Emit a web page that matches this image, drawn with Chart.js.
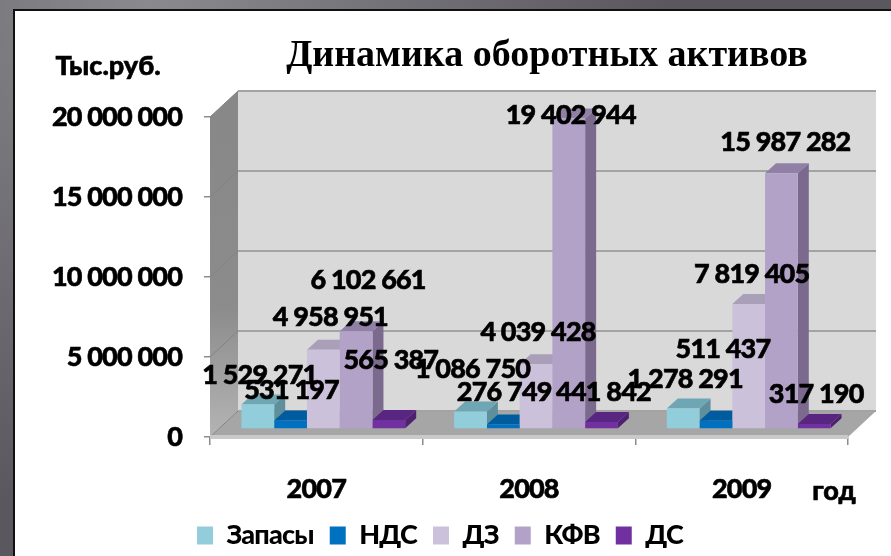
<!DOCTYPE html>
<html>
<head>
<meta charset="utf-8">
<script src="https://cdn.jsdelivr.net/npm/chart.js@4"></script>
<style>
    html, body { margin: 0; padding: 0; width: 891px; height: 556px; overflow: hidden; }
    body { position: relative; background: radial-gradient(ellipse 520px 520px at 150px 0, #8a898e, #5a585e); }
    #sheet { position: absolute; left: 13px; top: 9px; right: 0; bottom: 0; background: #fff; border-left: 2px solid #111; border-top: 2px solid #111; }
    canvas { position: absolute; left: 0; top: 0; filter: blur(0.5px); }
</style>
</head>
<body>
<div id="sheet"></div>
<canvas id="assetsChart" width="891" height="556"></canvas>
<script>
const years = ['2007', '2008', '2009'];
const zapasy = [1529271, 1086750, 1278291];
const nds = [531197, 276749, 511437];
const dz = [4958951, 4039428, 7819405];
const kfv = [6102661, 19402944, 15987282];
const ds = [565387, 441842, 317190];
const yTicks = [0, 5000000, 10000000, 15000000, 20000000];

const FONT = 'Lato, sans-serif';
// depth of the box and of the bars, in px
const BOX_DX = 28, BOX_DY = 26;
const BAR_SHIFT_X = 7, BAR_SHIFT_Y = -8;
const BAR_DX = 11, BAR_DY = 10;

const seriesStyle = [
    { front: '#92cddc', side: '#5d8f9c', top: '#6fa6b4' },
    { front: '#0070c0', side: '#00558f', top: '#005c9e' },
    { front: '#ccc1da', side: '#9a8fa8', top: '#a99fb8' },
    { front: '#b3a2c7', side: '#7b6a8e', top: '#9080a6' },
    { front: '#7030a0', side: '#4e2070', top: '#582680' }
];

// label position relative to the bar top, one row per series [dx, dy]
const labelNudge = [
    [[2, -29], [2, -42], [2, -29]],
    [[1, -30], [1, -32], [7, -72]],
    [[7, -32], [2, -32], [3, -30]],
    [[12, -51], [2, -3], [4, -31]],
    [[2, -60], [2, -30], [2, -30]]
];

function spaced(v) {
    return String(v).replace(/\B(?=(\d{3})+(?!\d))/g, ' ');
}

function poly(ctx, pts, fill) {
    ctx.beginPath();
    ctx.moveTo(pts[0][0], pts[0][1]);
    for (let i = 1; i < pts.length; i++) ctx.lineTo(pts[i][0], pts[i][1]);
    ctx.closePath();
    ctx.fillStyle = fill;
    ctx.fill();
}

function heavyText(ctx, text, x, y) {
    ctx.strokeText(text, x, y);
    ctx.fillText(text, x, y);
}

const box3d = {
    id: 'box3d',
    // chart.js resets the context when it sizes the canvas, so set this here
    beforeUpdate(chart) {
        chart.ctx.letterSpacing = '-0.8px';
    },
    beforeDatasetsDraw(chart) {
        const ctx = chart.ctx;
        const a = chart.chartArea;
        const y = chart.scales.y;
        ctx.save();
        // back wall
        poly(ctx, [[a.left + BOX_DX, a.top - BOX_DY], [a.right + BOX_DX, a.top - BOX_DY], [a.right + BOX_DX, a.bottom - BOX_DY], [a.left + BOX_DX, a.bottom - BOX_DY]], '#d9d9d9');
        // left wall
        const wall = ctx.createLinearGradient(0, a.top, 0, a.bottom);
        wall.addColorStop(0, '#888888');
        wall.addColorStop(0.6, '#8c8c8c');
        wall.addColorStop(1, '#b4b4b4');
        poly(ctx, [[a.left, a.top], [a.left + BOX_DX, a.top - BOX_DY], [a.left + BOX_DX, a.bottom - BOX_DY], [a.left, a.bottom]], wall);
        // floor
        poly(ctx, [[a.left, a.bottom], [a.right, a.bottom], [a.right + BOX_DX, a.bottom - BOX_DY], [a.left + BOX_DX, a.bottom - BOX_DY]], '#a6a6a6');
        yTicks.forEach(function (t) {
            const py = y.getPixelForValue(t);
            ctx.strokeStyle = '#828282';
            ctx.lineWidth = 1;
            ctx.beginPath();
            ctx.moveTo(a.left, py);
            ctx.lineTo(a.left + BOX_DX, py - BOX_DY);
            ctx.stroke();
            ctx.strokeStyle = '#a3a3a3';
            ctx.lineWidth = 2;
            ctx.beginPath();
            ctx.moveTo(a.left + BOX_DX, py - BOX_DY);
            ctx.lineTo(a.right + BOX_DX, py - BOX_DY);
            ctx.stroke();
        });
        ctx.strokeStyle = '#c9c9c9';
        ctx.lineWidth = 4;
        ctx.beginPath();
        ctx.moveTo(a.left, a.bottom);
        ctx.lineTo(a.right, a.bottom);
        ctx.stroke();

        // sides and tops of the bars, left to right, fronts go over them
        years.forEach(function (yr, c) {
            seriesStyle.forEach(function (st, s) {
                const bar = chart.getDatasetMeta(s).data[c];
                const l = bar.x - bar.width / 2 + BAR_SHIFT_X;
                const r = bar.x + bar.width / 2 + BAR_SHIFT_X;
                const t = bar.y + BAR_SHIFT_Y;
                const b = bar.base + BAR_SHIFT_Y;
                poly(ctx, [[r, t], [r + BAR_DX, t - BAR_DY], [r + BAR_DX, b - BAR_DY], [r, b]], st.side);
                poly(ctx, [[l, t], [l + BAR_DX, t - BAR_DY], [r + BAR_DX, t - BAR_DY], [r, t]], st.top);
            });
        });
        ctx.restore();
    },
    beforeDatasetDraw(chart) {
        chart.ctx.save();
        chart.ctx.translate(BAR_SHIFT_X, BAR_SHIFT_Y);
    },
    afterDatasetDraw(chart) {
        chart.ctx.restore();
    },
    afterDatasetsDraw(chart) {
        const ctx = chart.ctx;
        ctx.save();
        ctx.fillStyle = '#000';
        ctx.strokeStyle = '#000';
        ctx.lineWidth = 0.6;
        ctx.textAlign = 'center';
        ctx.textBaseline = 'middle';
        ctx.font = '900 27px ' + FONT;
        chart.data.datasets.forEach(function (ds, s) {
            chart.getDatasetMeta(s).data.forEach(function (bar, c) {
                const n = labelNudge[s][c];
                heavyText(ctx, spaced(ds.data[c]), bar.x + BAR_SHIFT_X + n[0], bar.y + BAR_SHIFT_Y + n[1]);
            });
        });
        // chart title and axis captions
        ctx.letterSpacing = '0px';
        ctx.font = 'bold 38px "Liberation Serif", serif';
        ctx.fillText('Динамика оборотных активов', 547, 56);
        ctx.font = '900 27px ' + FONT;
        heavyText(ctx, 'Тыс.руб.', 108, 66);
        heavyText(ctx, 'год', 834, 491);
        ctx.restore();
    }
};

const ctx = document.getElementById('assetsChart').getContext('2d');
const names = ['Запасы', 'НДС', 'ДЗ', 'КФВ', 'ДС'];
const values = [zapasy, nds, dz, kfv, ds];

new Chart(ctx, {
    type: 'bar',
    data: {
        labels: years,
        datasets: names.map(function (name, i) {
            return {
                label: name,
                data: values[i],
                backgroundColor: seriesStyle[i].front,
                borderWidth: 0,
                clip: false,
                categoryPercentage: 0.77,
                barPercentage: 1
            };
        })
    },
    plugins: [box3d],
    options: {
        responsive: false,
        animation: false,
        layout: { padding: { top: 117, right: 43, left: 32, bottom: -3 } },
        plugins: {
            title: { display: false },
            tooltip: { enabled: false },
            legend: {
                position: 'bottom',
                labels: {
                    color: '#000',
                    boxWidth: 16,
                    boxHeight: 18,
                    padding: 16,
                    font: { family: FONT, size: 27, weight: '900' }
                }
            }
        },
        scales: {
            x: {
                afterFit(scale) { scale.height = 69; },
                border: { display: false },
                grid: { drawOnChartArea: false, color: '#8c8c8c', tickLength: 8, lineWidth: 1.5 },
                ticks: { color: '#000', padding: 28, textStrokeColor: '#000', textStrokeWidth: 0.6, font: { family: FONT, size: 27, weight: '900' } }
            },
            y: {
                min: 0,
                max: 20000000,
                afterFit(scale) { scale.width = 178; },
                afterBuildTicks(scale) { scale.ticks = yTicks.map(function (v) { return { value: v }; }); },
                border: { display: false },
                grid: { drawOnChartArea: false, color: '#8c8c8c', tickLength: 6, lineWidth: 1.5 },
                ticks: {
                    color: '#000',
                    padding: 22,
                    textStrokeColor: '#000',
                    textStrokeWidth: 0.6,
                    font: { family: FONT, size: 27, weight: '900' },
                    callback: function (v) { return spaced(v); }
                }
            }
        }
    }
});
</script>
</body>
</html>
